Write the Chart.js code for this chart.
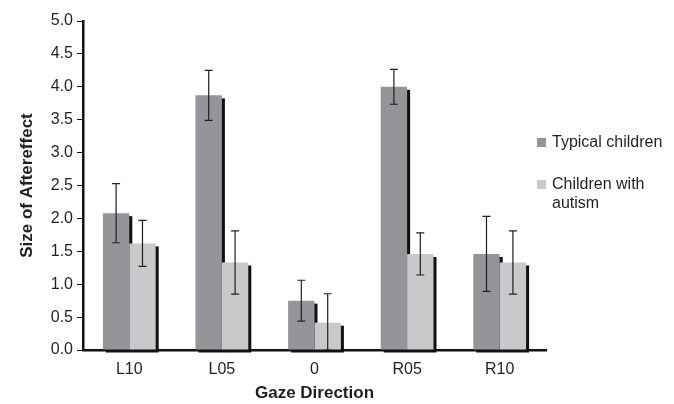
<!DOCTYPE html>
<html>
<head>
<meta charset="utf-8">
<script src="https://cdn.jsdelivr.net/npm/chart.js@4.4.0/dist/chart.umd.min.js"></script>
<style>
  body { margin: 0; background: #fff; }
  #wrap { position: relative; width: 674px; height: 404px; }
  #legend { position: absolute; left: 537px; top: 132px; font: 16px "Liberation Sans", Arial, sans-serif; color: #231f20; }
  .item { position: relative; padding-left: 15px; line-height: 19px; }
  .item span { position: absolute; left: 0; top: 6px; width: 9px; height: 9px; }
</style>
</head>
<body>
<div id="wrap">
  <canvas id="chart" width="674" height="404"></canvas>
  <div id="legend"></div>
</div>
<script>
const categories = ['L10', 'L05', '0', 'R05', 'R10'];
const seriesNames = ['Typical children', ['Children with', 'autism']];
const typical = [2.08, 3.87, 0.75, 4.00, 1.46];
const typicalErr = [0.45, 0.38, 0.31, 0.265, 0.57];
const autism = [1.62, 1.33, 0.415, 1.46, 1.33];
const autismErr = [0.35, 0.48, 0.44, 0.32, 0.48];
const colors = ['#939598', '#c8c9cb'];

const font = '"Liberation Sans", Arial, sans-serif';
const ink = '#231f20';

// black drop shadow behind every bar, drawn before all the bars
const shadowPlugin = {
    id: 'shadow',
    beforeDatasetsDraw(chart) {
        const ctx = chart.ctx;
        ctx.save();
        ctx.fillStyle = '#111';
        chart.data.datasets.forEach((ds, i) => {
            chart.getDatasetMeta(i).data.forEach(bar => {
                const w = bar.width;
                ctx.fillRect(bar.x - w / 2 + 3, bar.y + 3, w, bar.base - bar.y);
            });
        });
        ctx.restore();
    }
};

const errorPlugin = {
    id: 'errors',
    afterDatasetsDraw(chart) {
        const ctx = chart.ctx;
        const y = chart.scales.y;
        const errs = [typicalErr, autismErr];
        ctx.save();
        ctx.strokeStyle = ink;
        ctx.lineWidth = 1.2;
        chart.data.datasets.forEach((ds, i) => {
            chart.getDatasetMeta(i).data.forEach((bar, j) => {
                const v = ds.data[j];
                const top = y.getPixelForValue(v + errs[i][j]);
                const bot = y.getPixelForValue(Math.max(0, v - errs[i][j]));
                ctx.beginPath();
                ctx.moveTo(bar.x, top); ctx.lineTo(bar.x, bot);
                ctx.moveTo(bar.x - 4, top); ctx.lineTo(bar.x + 4, top);
                ctx.moveTo(bar.x - 4, bot); ctx.lineTo(bar.x + 4, bot);
                ctx.stroke();
            });
        });
        ctx.restore();
    }
};

new Chart(document.getElementById('chart').getContext('2d'), {
    type: 'bar',
    data: {
        labels: categories,
        datasets: [
            { label: 'Typical children', data: typical, backgroundColor: colors[0] },
            { label: 'Children with autism', data: autism, backgroundColor: colors[1] }
        ]
    },
    options: {
        responsive: false,
        animation: false,
        layout: { padding: { top: 21, right: 128, left: 0, bottom: 0 } },
        categoryPercentage: 0.57,
        barPercentage: 1.0,
        plugins: { legend: { display: false }, tooltip: { enabled: false } },
        scales: {
            x: {
                afterFit(scale) { scale.height = 54; },
                grid: { display: false, drawTicks: false },
                border: { color: '#111', width: 2.5 },
                ticks: { color: ink, font: { family: font, size: 16 }, padding: 10 },
                title: { display: true, text: 'Gaze Direction', color: ink, font: { family: font, size: 17, weight: 'bold' }, padding: { top: 3, bottom: 0 } }
            },
            y: {
                min: 0, max: 5,
                afterFit(scale) { scale.width = 83; },
                grid: { drawOnChartArea: false, tickLength: 6, color: '#111' },
                border: { color: '#111', width: 2.5 },
                ticks: { stepSize: 0.5, color: ink, font: { family: font, size: 16 }, padding: 4, callback: v => v.toFixed(1) },
                title: { display: true, text: 'Size of Aftereffect', color: ink, font: { family: font, size: 17, weight: 'bold' }, padding: { top: 17, bottom: 0 } }
            }
        }
    },
    plugins: [shadowPlugin, errorPlugin]
});

const legend = document.getElementById('legend');
seriesNames.forEach((name, i) => {
    const d = document.createElement('div');
    d.className = 'item';
    d.style.marginBottom = '23px';
    d.innerHTML = '<span style="background:' + colors[i] + '"></span>' + [].concat(name).join('<br>');
    legend.appendChild(d);
});
</script>
</body>
</html>
